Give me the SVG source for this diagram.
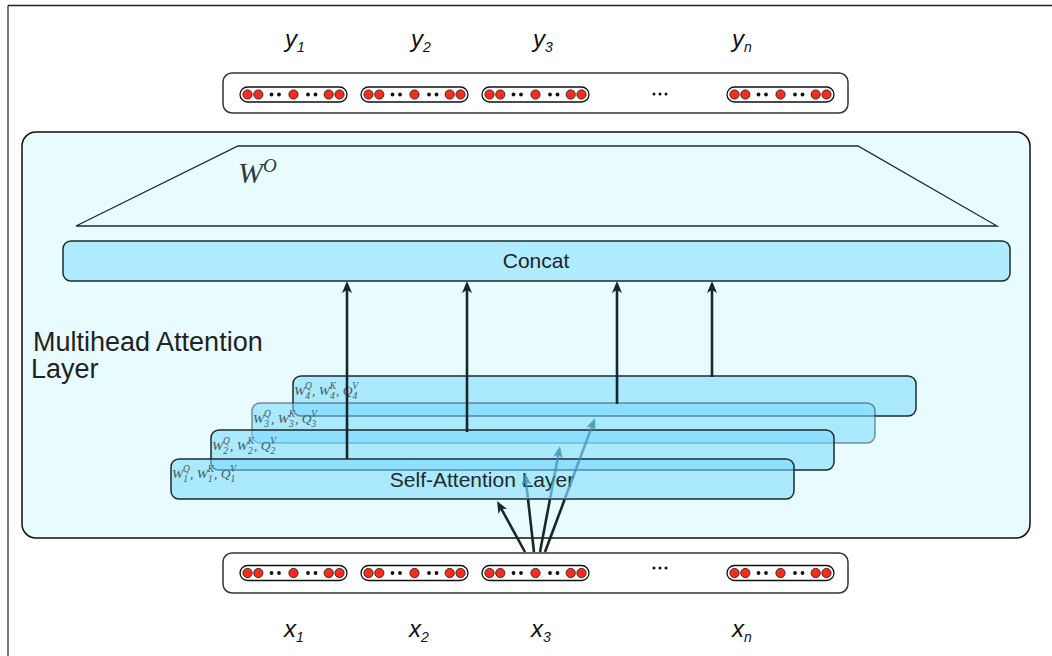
<svg xmlns="http://www.w3.org/2000/svg" width="1052" height="656" viewBox="0 0 1052 656">
<style>
.sans{font-family:"Liberation Sans",Arial,sans-serif}
.lbl{font-family:"Liberation Sans",Arial,sans-serif;font-style:italic;font-size:24px;fill:#111}
.sub{font-size:14px}
.bar{fill:#fff;stroke:#333;stroke-width:1.5}
.layer{fill:#78d9ff;fill-opacity:0.55;stroke:#1d2a2c;stroke-width:1.5}
.hl{font-family:"Liberation Serif","Times New Roman",serif;font-style:italic;font-size:13.5px;fill:#465658}
.hs{font-size:9.5px}
.arr{stroke:#16282a;stroke-width:2.6;fill:none}
.fad{stroke:#3d93b3;stroke-width:2.6;fill:none;stroke-opacity:0.75}
</style>
<defs>
<marker id="ah" viewBox="0 0 12 10" refX="5" refY="5" markerWidth="12" markerHeight="10" markerUnits="userSpaceOnUse" orient="auto">
<path d="M0,0 L12,5 L0,10 L3,5 z" fill="#16282a"/>
</marker>
<marker id="ahf" viewBox="0 0 12 10" refX="5" refY="5" markerWidth="12" markerHeight="10" markerUnits="userSpaceOnUse" orient="auto">
<path d="M0,0 L12,5 L0,10 L3,5 z" fill="#3d93b3" fill-opacity="0.8"/>
</marker>
<g id="pill">
<rect x="0" y="-7.5" width="107" height="15" rx="7.5" fill="#fff" stroke="#111" stroke-width="1.3"/>
<g fill="#ff2a1a" stroke="#222" stroke-width="0.9">
<circle cx="7.5" cy="0" r="4.6"/><circle cx="18.3" cy="0" r="4.6"/><circle cx="53.5" cy="0" r="4.6"/><circle cx="88.7" cy="0" r="4.6"/><circle cx="99.5" cy="0" r="4.6"/>
</g>
<g fill="#111">
<circle cx="31.5" cy="0" r="1.9"/><circle cx="39" cy="0" r="1.9"/><circle cx="68" cy="0" r="1.9"/><circle cx="75.5" cy="0" r="1.9"/>
</g>
</g>
<g id="ellipsis" fill="#111">
<circle cx="-6" cy="0" r="1.5"/><circle cx="0" cy="0" r="1.5"/><circle cx="6" cy="0" r="1.5"/>
</g>
</defs>
<rect width="1052" height="656" fill="#fff"/>
<path d="M8,660 L8,5.5" fill="none" stroke="#777" stroke-width="2"/>
<path d="M8,5.5 L1060,5.5" fill="none" stroke="#222" stroke-width="1.5"/>

<g id="outputs">
<text class="lbl" x="285" y="47">y<tspan class="sub" dy="5">1</tspan></text>
<text class="lbl" x="411" y="47">y<tspan class="sub" dy="5">2</tspan></text>
<text class="lbl" x="533" y="47">y<tspan class="sub" dy="5">3</tspan></text>
<text class="lbl" x="732" y="47">y<tspan class="sub" dy="5">n</tspan></text>
<rect class="bar" x="223" y="73" width="625" height="40" rx="9"/>
<use href="#pill" x="240" y="94.5"/>
<use href="#pill" x="361" y="94.5"/>
<use href="#pill" x="482" y="94.5"/>
<use href="#ellipsis" x="660" y="94"/>
<use href="#pill" x="727" y="94.5"/>
</g>

<g id="multihead">
<rect x="22" y="132" width="1008" height="406" rx="14" fill="#e8fcff" stroke="#111" stroke-width="1.5"/>
<text class="sans" x="33" y="351" font-size="27" fill="#222">Multihead Attention</text>
<text class="sans" x="31" y="378" font-size="27" fill="#222">Layer</text>
</g>

<g id="wo">
<path d="M76,226 L238,146 L858,146 L997,226 Z" fill="none" stroke="#1d2a2c" stroke-width="1.3"/>
<text x="238" y="183" font-family="'Liberation Serif','Times New Roman',serif" font-style="italic" font-size="30" fill="#2e3a3c">W<tspan font-size="19" dy="-11">O</tspan></text>
</g>

<g id="concat">
<rect x="63" y="241" width="947" height="40" rx="8" fill="#b0ecff" stroke="#1d2a2c" stroke-width="1.5"/>
<text class="sans" x="536" y="268" font-size="21" fill="#222" text-anchor="middle">Concat</text>
</g>

<g id="head4">
<rect class="layer" x="293" y="376" width="623" height="40" rx="8"/>
<text class="hl" x="294" y="395">W<tspan class="hs" dy="4">4</tspan><tspan class="hs" dx="-5" dy="-10">Q</tspan><tspan dy="6">, W</tspan><tspan class="hs" dy="4">4</tspan><tspan class="hs" dx="-5" dy="-10">K</tspan><tspan dy="6">, Q</tspan><tspan class="hs" dy="4">4</tspan><tspan class="hs" dx="-5" dy="-10">V</tspan></text>
</g>
<g id="head3">
<rect class="layer" x="252" y="403" width="623" height="40" rx="8" stroke-opacity="0.5"/>
<text class="hl" x="253" y="423">W<tspan class="hs" dy="4">3</tspan><tspan class="hs" dx="-5" dy="-10">Q</tspan><tspan dy="6">, W</tspan><tspan class="hs" dy="4">3</tspan><tspan class="hs" dx="-5" dy="-10">K</tspan><tspan dy="6">, Q</tspan><tspan class="hs" dy="4">3</tspan><tspan class="hs" dx="-5" dy="-10">V</tspan></text>
</g>
<g id="head2">
<rect class="layer" x="211" y="430" width="623" height="40" rx="8"/>
<text class="hl" x="212" y="450">W<tspan class="hs" dy="4">2</tspan><tspan class="hs" dx="-5" dy="-10">Q</tspan><tspan dy="6">, W</tspan><tspan class="hs" dy="4">2</tspan><tspan class="hs" dx="-5" dy="-10">K</tspan><tspan dy="6">, Q</tspan><tspan class="hs" dy="4">2</tspan><tspan class="hs" dx="-5" dy="-10">V</tspan></text>
</g>
<g id="head1">
<rect class="layer" x="171" y="459" width="623" height="40" rx="8"/>
<text class="hl" x="172" y="478">W<tspan class="hs" dy="4">1</tspan><tspan class="hs" dx="-5" dy="-10">Q</tspan><tspan dy="6">, W</tspan><tspan class="hs" dy="4">1</tspan><tspan class="hs" dx="-5" dy="-10">K</tspan><tspan dy="6">, Q</tspan><tspan class="hs" dy="4">1</tspan><tspan class="hs" dx="-5" dy="-10">V</tspan></text>
<text class="sans" x="482" y="487" font-size="21" fill="#1d2a2c" text-anchor="middle">Self-Attention Layer</text>
</g>

<g id="inputs">
<rect class="bar" x="223" y="553" width="625" height="40" rx="9"/>
<use href="#pill" x="240" y="573"/>
<use href="#pill" x="361" y="573"/>
<use href="#pill" x="482" y="573"/>
<use href="#ellipsis" x="660" y="568"/>
<use href="#pill" x="727" y="573"/>
<text class="lbl" x="284" y="637">x<tspan class="sub" dy="5">1</tspan></text>
<text class="lbl" x="409" y="637">x<tspan class="sub" dy="5">2</tspan></text>
<text class="lbl" x="531" y="637">x<tspan class="sub" dy="5">3</tspan></text>
<text class="lbl" x="732" y="637">x<tspan class="sub" dy="5">n</tspan></text>
</g>

<g id="connectors">
<line class="arr" x1="347" y1="459" x2="347" y2="288" marker-end="url(#ah)"/>
<line class="arr" x1="467" y1="432" x2="467" y2="288" marker-end="url(#ah)"/>
<line class="arr" x1="617" y1="404" x2="617" y2="288" marker-end="url(#ah)"/>
<line class="arr" x1="712" y1="377" x2="712" y2="288" marker-end="url(#ah)"/>
<line class="arr" x1="525" y1="552" x2="500.4" y2="507.1" marker-end="url(#ah)"/>
<line class="arr" x1="534" y1="552" x2="528" y2="499"/>
<line class="fad" x1="528" y1="499" x2="525.8" y2="480" marker-end="url(#ahf)"/>
<line class="arr" x1="540" y1="552" x2="550" y2="499"/>
<line class="fad" x1="550" y1="499" x2="558.7" y2="452.9" marker-end="url(#ahf)"/>
<line class="arr" x1="545" y1="552" x2="564.8" y2="499"/>
<line class="fad" x1="564.8" y1="499" x2="592.6" y2="424.6" marker-end="url(#ahf)"/>
</g>
</svg>
